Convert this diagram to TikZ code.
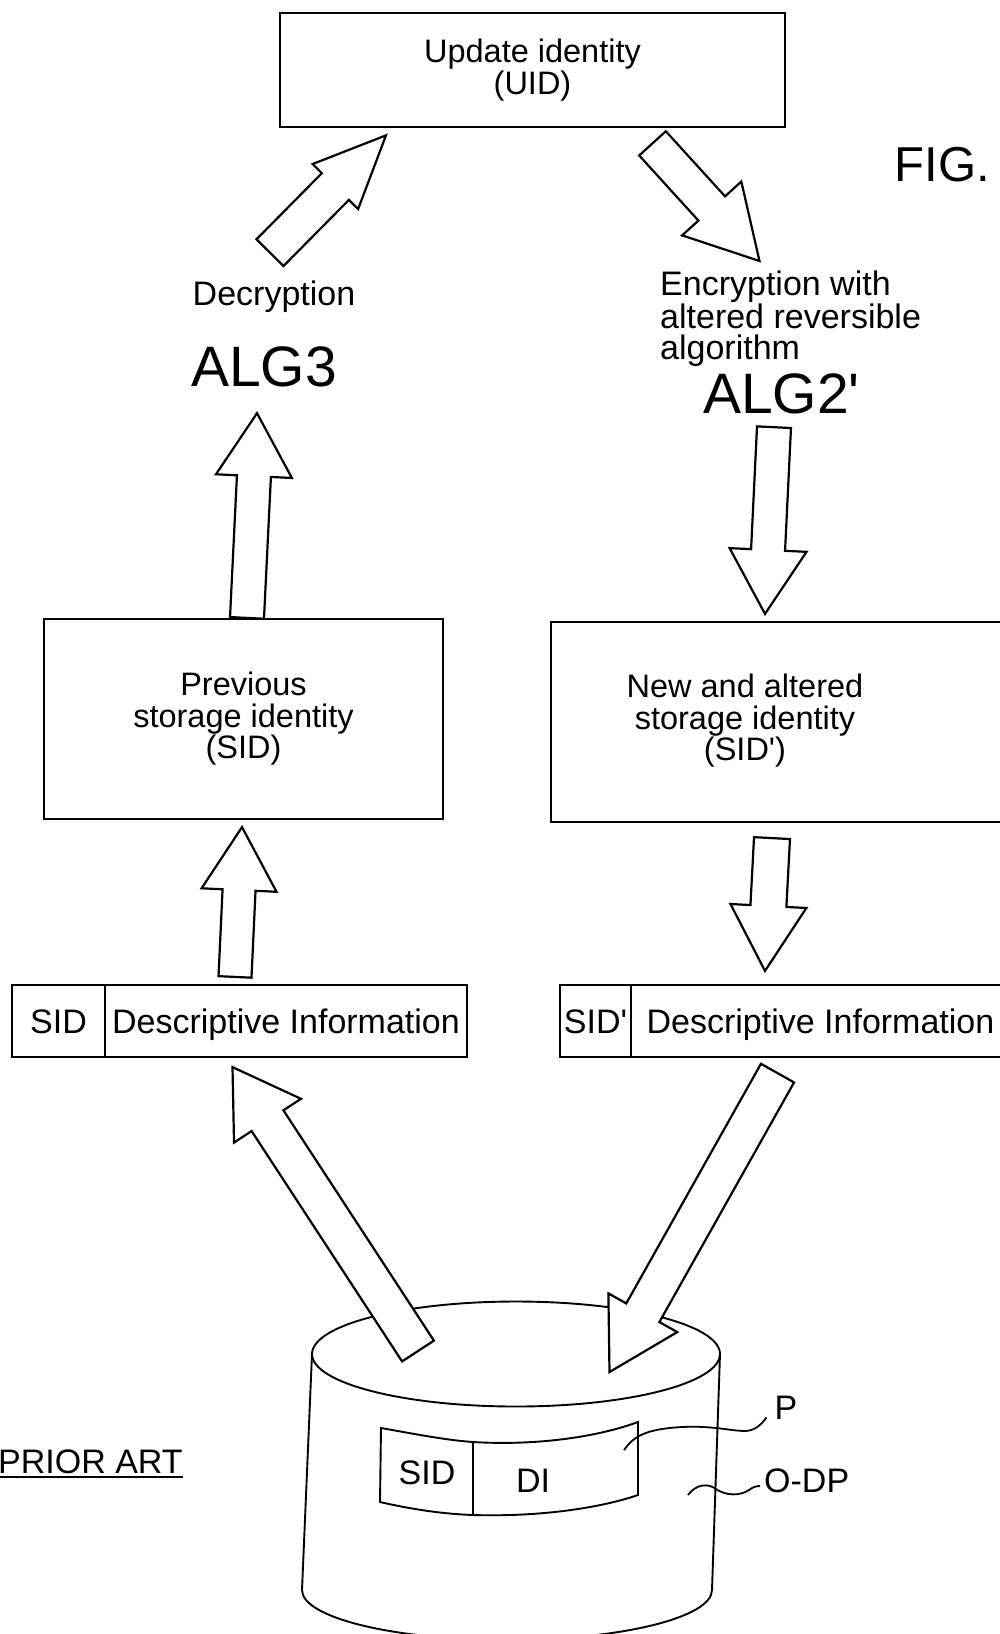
\documentclass[tikz,border=0pt]{standalone}
\usepackage{fontspec}
\setmainfont{Liberation Sans}
\usetikzlibrary{calc}

\newcommand\apos{\textquotesingle}
% hollow block arrow: tail, tip, shaft half width, head half width, head length
\newcommand\blockarrow[5]{%
  \coordinate (hb) at ($(#2)!#5!(#1)$);
  \draw[hollow] ($(#1)!#3!90:(#2)$) -- ($(hb)!#3!90:(#2)$) -- ($(hb)!#4!90:(#2)$)
    -- (#2) -- ($(hb)!#4!-90:(#2)$) -- ($(hb)!#3!-90:(#2)$) -- ($(#1)!#3!-90:(#2)$) -- cycle;}

\begin{document}
\begin{tikzpicture}[x=1pt, y=-1pt,
      box/.style={draw, line width=2.2pt, inner sep=0pt, align=center,
                  font=\fontsize{32.5}{31.5}\selectfont},
      cell/.style={draw, line width=2.2pt, inner sep=0pt, minimum height=72pt,
                  text height=24.3pt, text depth=0pt, font=\fontsize{34}{31.5}\selectfont},
      txt/.style={inner sep=0pt, align=center, font=\fontsize{32.5}{31.5}\selectfont},
      one/.style={inner sep=0pt, text height=24.3pt, text depth=0pt,
                  font=\fontsize{34}{31.5}\selectfont},
      big/.style={inner sep=0pt, text height=40.8pt, text depth=0pt,
                  font=\fontsize{57}{60}\selectfont},
      hollow/.style={draw, fill=white, line width=2.2pt, line join=miter},
      cyl/.style={line width=1.9pt},
      lead/.style={line width=1.8pt}]

    \useasboundingbox (0,0) rectangle (1000,1634);
    \clip (0,0) rectangle (1000,1634);

    % ---- Top: update identity ----
    \node[box, minimum width=505pt, minimum height=113.5pt] (uid) at (532.5,70)
         {Update identity\\(UID)};
    \node[inner sep=0pt, text height=35pt, text depth=0pt,
          font=\fontsize{49}{52}\selectfont] (fig) at (942.5,164) {FIG.};

    % ---- Algorithm labels ----
    \node[one] (decr) at (274,293) {Decryption};
    \node[big] (alg3) at (264,366) {ALG3};
    \node[txt, align=left, anchor=west, font=\fontsize{34}{31.5}\selectfont] (encr)
         at (660,319) {Encryption with\\altered reversible\\algorithm};
    \node[big] (alg2) at (781.5,393) {ALG2\apos};

    % ---- Storage identities ----
    \node[box, minimum width=399pt, minimum height=200pt] (prev) at (243.5,719)
         {Previous\\storage identity\\(SID)};
    \node[draw, line width=2.2pt, minimum width=459pt, minimum height=200pt] (newsid)
         at (780.5,722) {};
    \node[txt] (newtxt) at (745,721) {New and altered\\storage identity\\(SID\apos)};

    % ---- Records ----
    \node[cell, minimum width=93pt] (rsid) at (58.5,1021) {SID};
    \node[cell, minimum width=362pt] (rinfo) at (286,1021) {Descriptive Information};
    \node[cell, minimum width=71pt] (rsidn) at (595.5,1021) {SID\apos};
    \node[cell, minimum width=379pt] (rinfon) at (820.5,1021) {Descriptive Information};

    % ---- Database O-DP ----
    \coordinate (odp) at (516,1354);
    \draw[cyl] (odp) ellipse [x radius=204pt, y radius=52.5pt];
    \draw[cyl] (312,1354) -- (302,1590) arc[start angle=180, end angle=360,
          x radius=205pt, y radius=50pt] -- (720,1354);
    % record P on the cylinder
    \draw[cyl] (381,1428) .. controls (415,1434) and (445,1440) .. (473,1442)
          .. controls (540,1446) and (600,1436) .. (638,1422) -- (638,1495)
          .. controls (600,1508) and (540,1517) .. (473,1515)
          .. controls (445,1514) and (415,1510) .. (380,1502) -- cycle;
    \draw[cyl] (473,1442) -- (473,1515);
    \node[one] (psid) at (427,1472) {SID};
    \node[one] (pdi) at (533,1480) {DI};

    \node[one] (plbl) at (786,1407) {P};
    \node[one, anchor=west] (odplbl) at (764,1480) {O-DP};
    \coordinate (pfoot) at (624,1450);
    \coordinate (odpfoot) at (688,1495);
    \draw[lead] (pfoot) .. controls (634,1436) and (646,1429) .. (682,1427)
          .. controls (722,1425) and (742,1435) .. (754,1429)
          .. controls (760,1426) and (764,1421) .. ([xshift=-8pt,yshift=2pt]plbl.south west);
    \draw[lead] (odpfoot) .. controls (696,1484) and (708,1483) .. (716,1489)
          .. controls (726,1496) and (740,1496) .. (749,1490)
          .. controls (753,1487) and (756,1486) .. ([xshift=-4pt,yshift=-6pt]odplbl.west);

    \node[one, anchor=west] (prior) at (-2,1461) {PRIOR ART};
    \draw[lead] ([yshift=-4pt]prior.south west) -- ([yshift=-4pt]prior.south east);

    % ---- Block arrows ----
    \coordinate (dectail) at ([xshift=-4pt,yshift=28pt]decr.north);
    \coordinate (dectip) at ([xshift=-146.5pt,yshift=-7.5pt]uid.south);
    \blockarrow{dectail}{dectip}{19pt}{32pt}{72pt}

    \coordinate (enctail) at ([xshift=120pt,yshift=-15.5pt]uid.south);
    \coordinate (enctip) at (759.5,261);
    \blockarrow{enctail}{enctip}{18pt}{40pt}{71pt}

    \coordinate (a3tail) at ([xshift=3.5pt]prev.north);
    \coordinate (a3tip) at ([xshift=-7pt,yshift=-26.6pt]alg3.south);
    \blockarrow{a3tail}{a3tip}{17pt}{38pt}{63pt}

    \coordinate (a2tail) at ([xshift=-7.5pt,yshift=-13.6pt]alg2.south);
    \coordinate (a2tip) at ([xshift=-15.5pt,yshift=7pt]newsid.north);
    \blockarrow{a2tail}{a2tip}{17pt}{38.5pt}{64pt}

    \coordinate (rtail) at ([xshift=-51pt,yshift=7pt]rinfo.north);
    \coordinate (rtip) at ([xshift=-1.5pt,yshift=-7pt]prev.south);
    \blockarrow{rtail}{rtip}{16.5pt}{37.5pt}{63pt}

    \coordinate (ntail) at ([xshift=-8.5pt,yshift=-15pt]newsid.south);
    \coordinate (ntip) at ([xshift=-55.5pt,yshift=13pt]rinfon.north);
    \blockarrow{ntail}{ntip}{18pt}{38pt}{65pt}

    \coordinate (gtail) at ($(odp)+(-98,-3)$);
    \coordinate (gtip) at ([xshift=-53.5pt,yshift=-9pt]rinfo.south);
    \blockarrow{gtail}{gtip}{19pt}{40pt}{64pt}

    \coordinate (htail) at ([xshift=-43pt,yshift=-15pt]rinfon.south);
    \coordinate (htip) at ($(odp)+(93.5,18)$);
    \blockarrow{htail}{htip}{19pt}{39.5pt}{68pt}

\end{tikzpicture}
\end{document}
